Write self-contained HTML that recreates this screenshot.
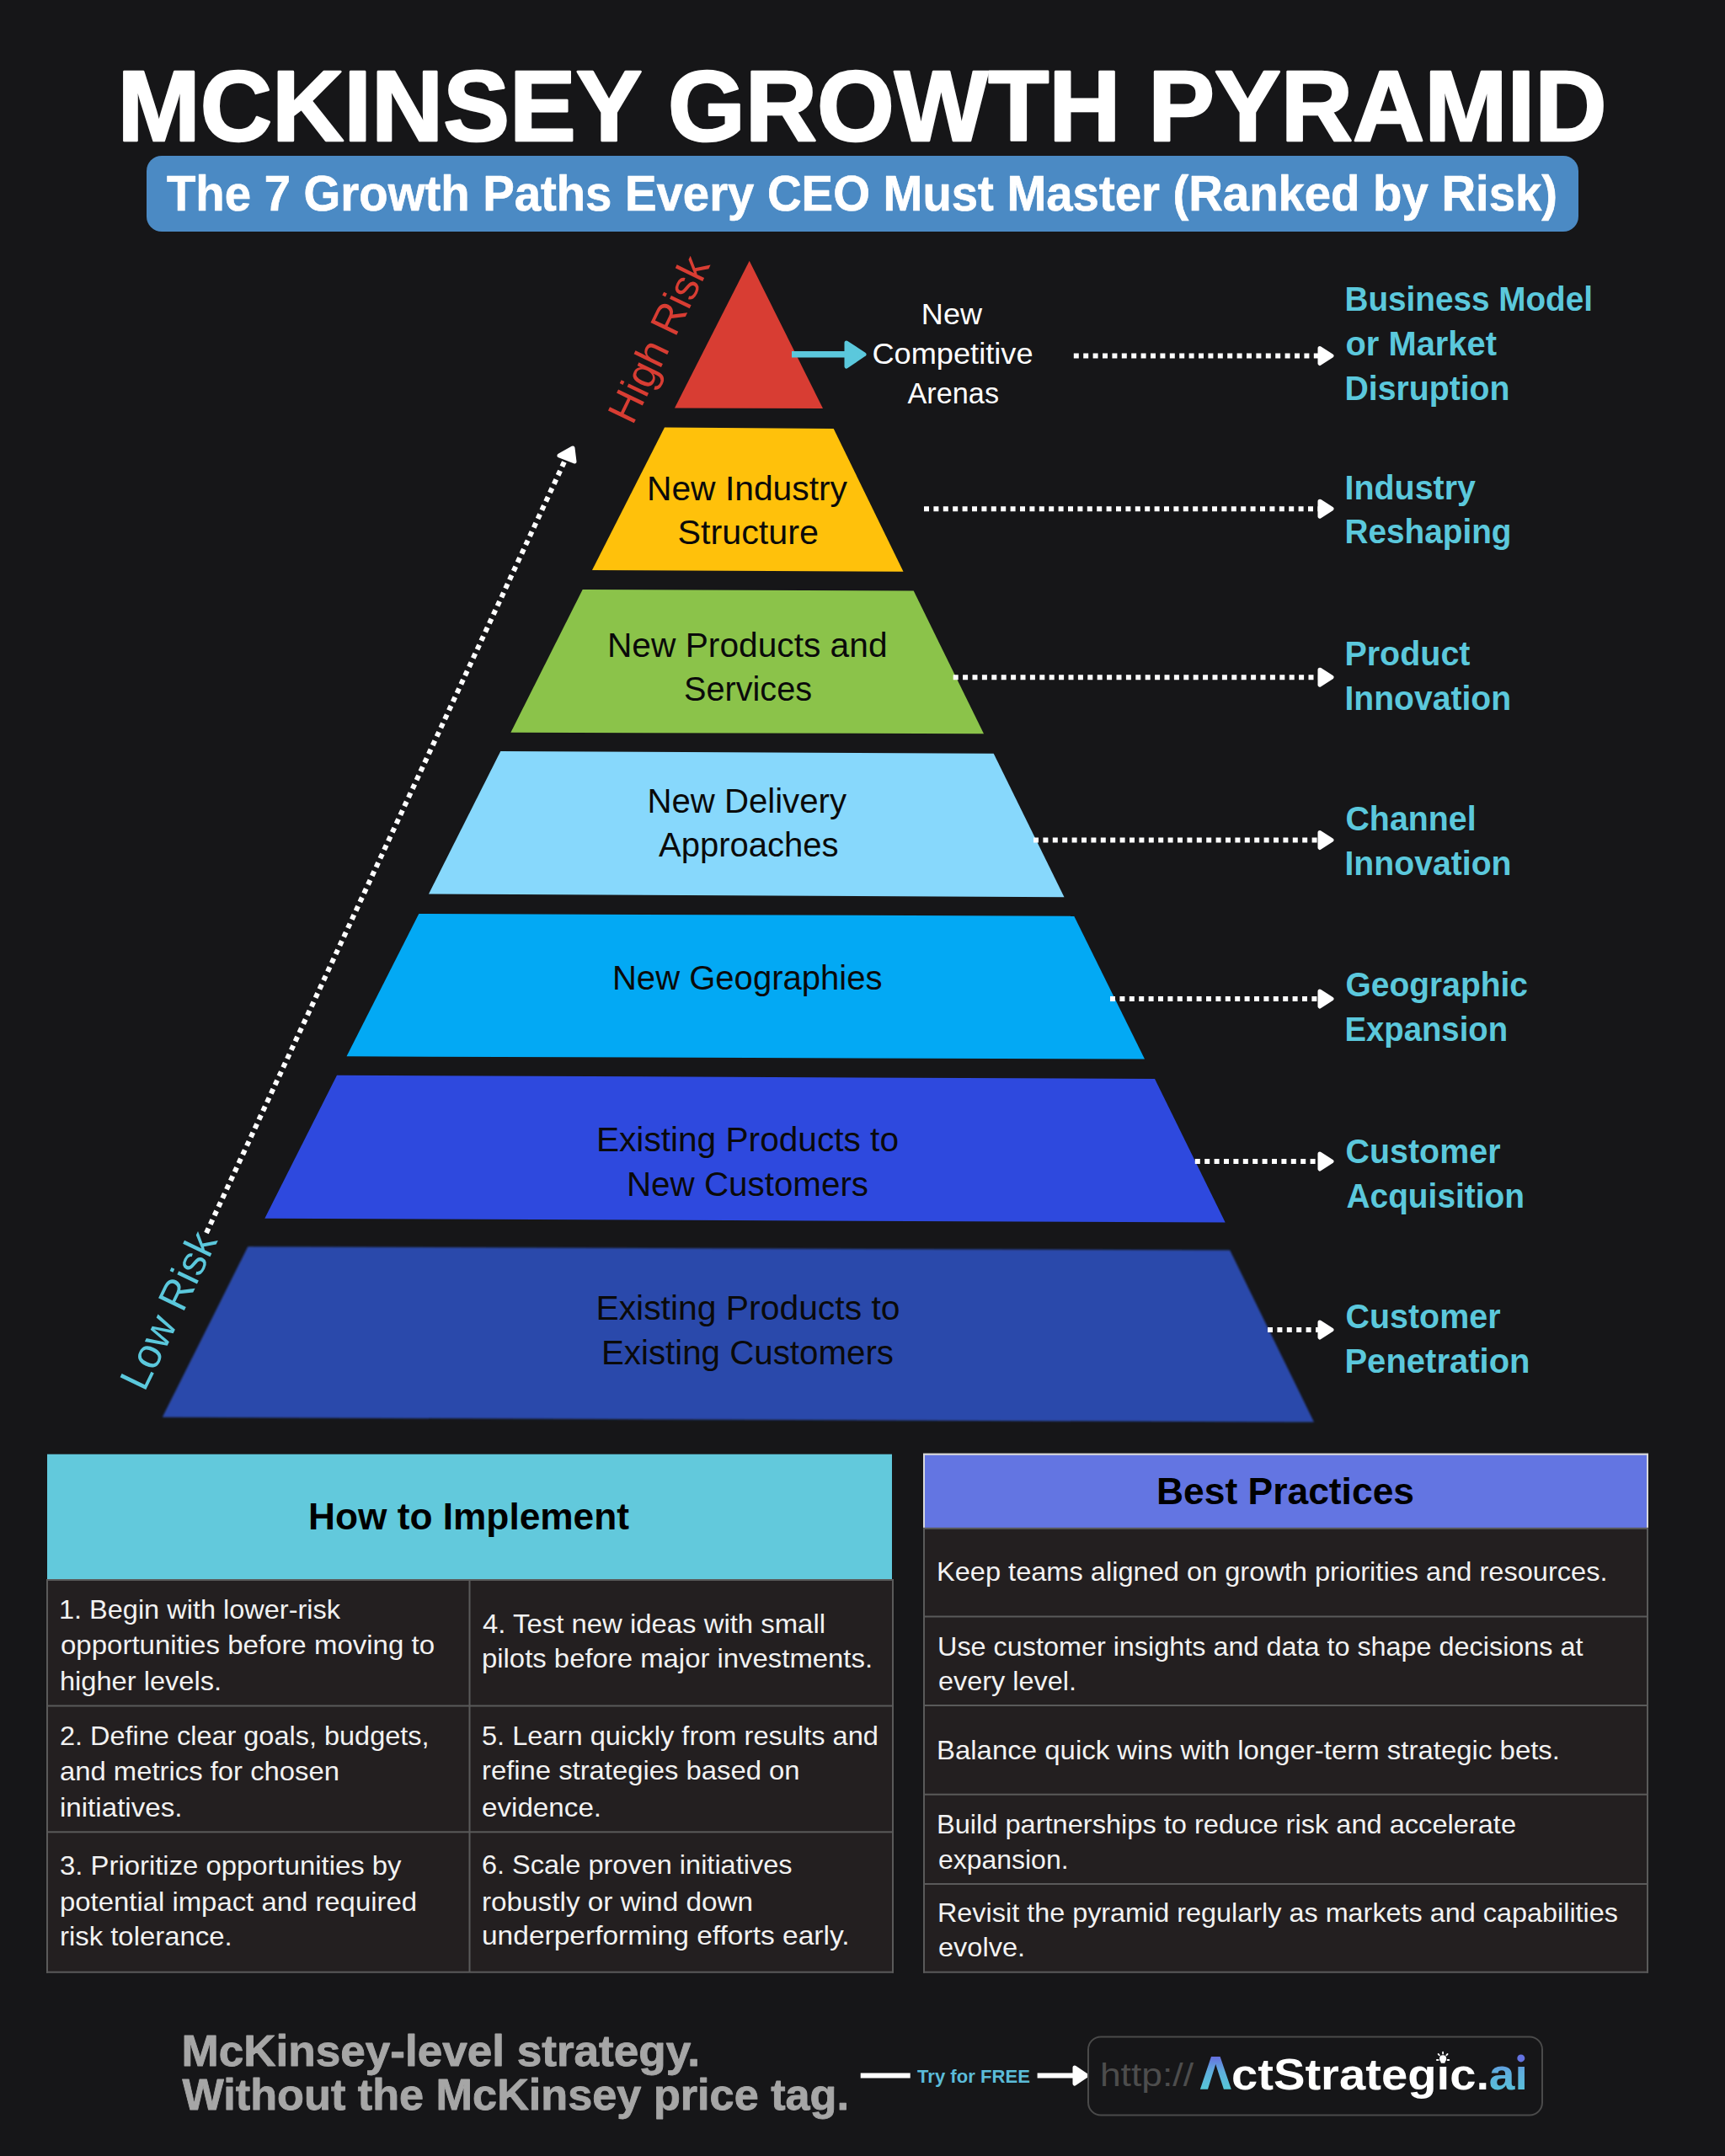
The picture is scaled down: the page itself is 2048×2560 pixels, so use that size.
<!DOCTYPE html>
<html><head><meta charset="utf-8"><title>McKinsey Growth Pyramid</title>
<style>html,body{margin:0;padding:0;background:#161618;width:2048px;height:2560px;overflow:hidden}
svg text{font-family:"Liberation Sans", sans-serif}</style></head>
<body><svg width="2048" height="2560" viewBox="0 0 2048 2560" style="display:block"><defs><filter id="b1" x="-5%" y="-5%" width="110%" height="110%"><feGaussianBlur stdDeviation="0.9"/></filter><linearGradient id="g1" x1="0" y1="0" x2="0" y2="1"><stop offset="0" stop-color="#6670E0"/><stop offset="0.45" stop-color="#5FAEDD"/><stop offset="1" stop-color="#56C8D9"/></linearGradient></defs>
<rect x="0" y="0" width="2048" height="2560" fill="#161618"/>
<rect x="174" y="185" width="1700" height="90" rx="18" ry="18" fill="#4B8AC4"/>
<polygon points="889.7,309.8 977,485 801,484.5" fill="#D83D33"/>
<polygon points="789,507.5 989.7,509 1072.5,678.7 703,677" fill="#FFC10B"/>
<polygon points="691.7,700 1084.7,701.6 1168,871.3 606.4,869.7" fill="#8BC34A"/>
<polygon points="594.3,892 1179.7,894.8 1263.5,1065.2 509,1061.4" fill="#87D8FC"/>
<polygon points="497.3,1085 1275.2,1087.8 1359,1257.6 411.5,1254.3" fill="#03A9F4"/>
<polygon points="400,1276.8 1371,1281 1454.7,1451.4 314.3,1446.8" fill="#2E49DE"/>
<polygon points="294.3,1480.3 1460.2,1484.5 1560,1688.6 192.8,1682.8" fill="#2C4AAB" filter="url(#b1)"/>
<rect x="940" y="417" width="66" height="7.5" fill="#5BC8DC"/>
<path d="M1005 407 L1026 420.8 L1005 435 Z" fill="#5BC8DC" stroke="#5BC8DC" stroke-width="5" stroke-linejoin="round"/>
<line x1="1274.8" y1="422.5" x2="1566" y2="422.5" stroke="#ffffff" stroke-width="6" stroke-dasharray="6 5.4"/>
<path d="M1567 413.5 L1581 422.5 L1567 431.5 Z" fill="#fff" stroke="#fff" stroke-width="5" stroke-linejoin="round"/>
<line x1="1097" y1="604.2" x2="1566" y2="604.2" stroke="#ffffff" stroke-width="6" stroke-dasharray="6 5.4"/>
<path d="M1567 595.2 L1581 604.2 L1567 613.2 Z" fill="#fff" stroke="#fff" stroke-width="5" stroke-linejoin="round"/>
<line x1="1131.7" y1="804.2" x2="1566" y2="804.2" stroke="#ffffff" stroke-width="6" stroke-dasharray="6 5.4"/>
<path d="M1567 795.2 L1581 804.2 L1567 813.2 Z" fill="#fff" stroke="#fff" stroke-width="5" stroke-linejoin="round"/>
<line x1="1227" y1="997.5" x2="1566" y2="997.5" stroke="#ffffff" stroke-width="6" stroke-dasharray="6 5.4"/>
<path d="M1567 988.5 L1581 997.5 L1567 1006.5 Z" fill="#fff" stroke="#fff" stroke-width="5" stroke-linejoin="round"/>
<line x1="1318" y1="1186" x2="1566" y2="1186" stroke="#ffffff" stroke-width="6" stroke-dasharray="6 5.4"/>
<path d="M1567 1177 L1581 1186 L1567 1195 Z" fill="#fff" stroke="#fff" stroke-width="5" stroke-linejoin="round"/>
<line x1="1418.8" y1="1379" x2="1566" y2="1379" stroke="#ffffff" stroke-width="6" stroke-dasharray="6 5.4"/>
<path d="M1567 1370 L1581 1379 L1567 1388 Z" fill="#fff" stroke="#fff" stroke-width="5" stroke-linejoin="round"/>
<line x1="1505" y1="1579" x2="1566" y2="1579" stroke="#ffffff" stroke-width="6" stroke-dasharray="6 5.4"/>
<path d="M1567 1570 L1581 1579 L1567 1588 Z" fill="#fff" stroke="#fff" stroke-width="5" stroke-linejoin="round"/>
<line x1="245" y1="1464" x2="672" y2="544" stroke="#fff" stroke-width="6" stroke-dasharray="6 5.4"/>
<path d="M664 541 L680 532 L682 548 Z" fill="#fff" stroke="#fff" stroke-width="5" stroke-linejoin="round"/>
<text x="0" y="0" font-size="49.7" fill="#D83D33" transform="translate(751.1,506) rotate(-64.2)">High Risk</text>
<text x="0" y="0" font-size="49.5" fill="#5BC8DC" transform="translate(171.5,1653.8) rotate(-64.2)">Low Risk</text>
<rect x="56" y="1726.7" width="1003" height="149" fill="#62C9DC"/>
<rect x="56" y="1876" width="1003" height="466" fill="#231F20"/>
<rect x="55" y="1875" width="1006" height="2" fill="#5a5a5a"/>
<rect x="55" y="2024.5" width="1006" height="2" fill="#5a5a5a"/>
<rect x="55" y="2174.3" width="1006" height="2" fill="#5a5a5a"/>
<rect x="55" y="2340.7" width="1006" height="2" fill="#5a5a5a"/>
<rect x="55" y="1875" width="2" height="467.7" fill="#5a5a5a"/>
<rect x="1059" y="1875" width="2" height="467.7" fill="#5a5a5a"/>
<rect x="556.5" y="1876" width="2" height="466" fill="#5a5a5a"/>
<rect x="1096" y="1725.6" width="861" height="89" fill="#D9D9D9"/>
<rect x="1098" y="1727.8" width="857" height="87" fill="#6375E2"/>
<rect x="1097" y="1815" width="859" height="527" fill="#231F20"/>
<rect x="1096" y="1813.8" width="861" height="2" fill="#5a5a5a"/>
<rect x="1096" y="1918.5" width="861" height="2" fill="#5a5a5a"/>
<rect x="1096" y="2024" width="861" height="2" fill="#5a5a5a"/>
<rect x="1096" y="2129.7" width="861" height="2" fill="#5a5a5a"/>
<rect x="1096" y="2236" width="861" height="2" fill="#5a5a5a"/>
<rect x="1096" y="2340.7" width="861" height="2" fill="#5a5a5a"/>
<rect x="1096" y="1814" width="2" height="528.7" fill="#5a5a5a"/>
<rect x="1955" y="1814" width="2" height="528.7" fill="#5a5a5a"/>
<rect x="1021.7" y="2461.5" width="59" height="6" fill="#fff"/>
<rect x="1231.6" y="2461.5" width="45" height="6" fill="#fff"/>
<path d="M1276 2455 L1290 2464.5 L1276 2474 Z" fill="#fff" stroke="#fff" stroke-width="5" stroke-linejoin="round"/>
<rect x="1292" y="2418.5" width="539" height="93" rx="15" ry="15" fill="none" stroke="#4a4a4a" stroke-width="2"/>
<path d="M1438 2442 L1448.6 2442 L1461.8 2480.8 L1452.9 2480.8 L1443.3 2450.9 L1434 2480.8 L1424.9 2480.8 Z" fill="url(#g1)"/>
<g fill="#fff" stroke="none"><circle cx="1713.1" cy="2444.4" r="4.1"/><path d="M1710.2 2446.5 L1716 2446.5 L1715.4 2449.8 L1710.8 2449.8 Z"/></g>
<g stroke="#fff" stroke-width="1.8" stroke-linecap="round"><line x1="1713.1" y1="2436.6" x2="1713.1" y2="2438.6"/><line x1="1707.6" y1="2438.9" x2="1708.9" y2="2440.3"/><line x1="1718.6" y1="2438.9" x2="1717.3" y2="2440.3"/><line x1="1705.9" y1="2446" x2="1707.6" y2="2446"/><line x1="1718.6" y1="2446" x2="1720.3" y2="2446"/></g>
<circle cx="1805.8" cy="2443.9" r="4.5" fill="#6473E1"/>
<text x="139.46" y="167.2" font-size="119.5" font-weight="bold" fill="#ffffff" textLength="1768.06" lengthAdjust="spacingAndGlyphs" stroke="#ffffff" stroke-width="2.6" stroke-linejoin="round">MCKINSEY GROWTH PYRAMID</text>
<text x="198.0" y="249.5" font-size="59" font-weight="bold" fill="#ffffff" textLength="1651.0" lengthAdjust="spacingAndGlyphs" stroke="#ffffff" stroke-width="0.7" stroke-linejoin="round">The 7 Growth Paths Every CEO Must Master (Ranked by Risk)</text>
<text x="767.95" y="593.7" font-size="40" font-weight="normal" fill="#0a0a0a" textLength="238.06" lengthAdjust="spacingAndGlyphs">New Industry</text>
<text x="804.47" y="645.8" font-size="40" font-weight="normal" fill="#0a0a0a" textLength="167.58" lengthAdjust="spacingAndGlyphs">Structure</text>
<text x="720.96" y="779.7" font-size="40" font-weight="normal" fill="#0a0a0a" textLength="332.59" lengthAdjust="spacingAndGlyphs">New Products and</text>
<text x="811.97" y="832" font-size="40" font-weight="normal" fill="#0a0a0a" textLength="152.05" lengthAdjust="spacingAndGlyphs">Services</text>
<text x="768.46" y="964.5" font-size="40" font-weight="normal" fill="#0a0a0a" textLength="236.54" lengthAdjust="spacingAndGlyphs">New Delivery</text>
<text x="782.0" y="1017.4" font-size="40" font-weight="normal" fill="#0a0a0a" textLength="213.51" lengthAdjust="spacingAndGlyphs">Approaches</text>
<text x="726.96" y="1174.7" font-size="40" font-weight="normal" fill="#0a0a0a" textLength="320.55" lengthAdjust="spacingAndGlyphs">New Geographies</text>
<text x="707.96" y="1366.5" font-size="40" font-weight="normal" fill="#0a0a0a" textLength="359.05" lengthAdjust="spacingAndGlyphs">Existing Products to</text>
<text x="743.96" y="1419.8" font-size="40" font-weight="normal" fill="#0a0a0a" textLength="287.06" lengthAdjust="spacingAndGlyphs">New Customers</text>
<text x="707.44" y="1567" font-size="40" font-weight="normal" fill="#0a0a0a" textLength="361.07" lengthAdjust="spacingAndGlyphs">Existing Products to</text>
<text x="713.95" y="1620.3" font-size="40" font-weight="normal" fill="#0a0a0a" textLength="347.07" lengthAdjust="spacingAndGlyphs">Existing Customers</text>
<text x="1093.85" y="384.9" font-size="34.5" font-weight="normal" fill="#ffffff" textLength="72.14" lengthAdjust="spacingAndGlyphs">New</text>
<text x="1035.47" y="431.8" font-size="34.5" font-weight="normal" fill="#ffffff" textLength="191.05" lengthAdjust="spacingAndGlyphs">Competitive</text>
<text x="1077.5" y="479.2" font-size="34.5" font-weight="normal" fill="#ffffff" textLength="108.51" lengthAdjust="spacingAndGlyphs">Arenas</text>
<text x="1596.46" y="369" font-size="40" font-weight="bold" fill="#5BC8DC" textLength="294.58" lengthAdjust="spacingAndGlyphs">Business Model</text>
<text x="1597.48" y="422" font-size="40" font-weight="bold" fill="#5BC8DC" textLength="179.51" lengthAdjust="spacingAndGlyphs">or Market</text>
<text x="1596.45" y="474.9" font-size="40" font-weight="bold" fill="#5BC8DC" textLength="196.1" lengthAdjust="spacingAndGlyphs">Disruption</text>
<text x="1596.48" y="593" font-size="40" font-weight="bold" fill="#5BC8DC" textLength="155.55" lengthAdjust="spacingAndGlyphs">Industry</text>
<text x="1596.45" y="645.1" font-size="40" font-weight="bold" fill="#5BC8DC" textLength="198.11" lengthAdjust="spacingAndGlyphs">Reshaping</text>
<text x="1596.45" y="789.7" font-size="40" font-weight="bold" fill="#5BC8DC" textLength="149.05" lengthAdjust="spacingAndGlyphs">Product</text>
<text x="1596.46" y="843" font-size="40" font-weight="bold" fill="#5BC8DC" textLength="197.61" lengthAdjust="spacingAndGlyphs">Innovation</text>
<text x="1597.47" y="986" font-size="40" font-weight="bold" fill="#5BC8DC" textLength="155.11" lengthAdjust="spacingAndGlyphs">Channel</text>
<text x="1596.45" y="1038.7" font-size="40" font-weight="bold" fill="#5BC8DC" textLength="198.11" lengthAdjust="spacingAndGlyphs">Innovation</text>
<text x="1597.49" y="1183.2" font-size="40" font-weight="bold" fill="#5BC8DC" textLength="216.51" lengthAdjust="spacingAndGlyphs">Geographic</text>
<text x="1596.46" y="1235.8" font-size="40" font-weight="bold" fill="#5BC8DC" textLength="193.6" lengthAdjust="spacingAndGlyphs">Expansion</text>
<text x="1597.48" y="1380.8" font-size="40" font-weight="bold" fill="#5BC8DC" textLength="184.03" lengthAdjust="spacingAndGlyphs">Customer</text>
<text x="1598.48" y="1433.6" font-size="40" font-weight="bold" fill="#5BC8DC" textLength="211.55" lengthAdjust="spacingAndGlyphs">Acquisition</text>
<text x="1597.48" y="1577.4" font-size="40" font-weight="bold" fill="#5BC8DC" textLength="184.03" lengthAdjust="spacingAndGlyphs">Customer</text>
<text x="1596.45" y="1630.3" font-size="40" font-weight="bold" fill="#5BC8DC" textLength="220.1" lengthAdjust="spacingAndGlyphs">Penetration</text>
<text x="365.99" y="1815.5" font-size="44" font-weight="bold" fill="#000000" textLength="381.01" lengthAdjust="spacingAndGlyphs">How to Implement</text>
<text x="1372.97" y="1786" font-size="45" font-weight="bold" fill="#000000" textLength="306.08" lengthAdjust="spacingAndGlyphs">Best Practices</text>
<text x="69.98" y="1921.6" font-size="30.5" font-weight="normal" fill="#F2F2F2" textLength="334.02" lengthAdjust="spacingAndGlyphs">1. Begin with lower-risk</text>
<text x="71.99" y="1963.8" font-size="30.5" font-weight="normal" fill="#F2F2F2" textLength="444.01" lengthAdjust="spacingAndGlyphs">opportunities before moving to</text>
<text x="70.95" y="2007" font-size="30.5" font-weight="normal" fill="#F2F2F2" textLength="192.13" lengthAdjust="spacingAndGlyphs">higher levels.</text>
<text x="70.99" y="2071.8" font-size="30.5" font-weight="normal" fill="#F2F2F2" textLength="438.54" lengthAdjust="spacingAndGlyphs">2. Define clear goals, budgets,</text>
<text x="70.98" y="2114" font-size="30.5" font-weight="normal" fill="#F2F2F2" textLength="332.05" lengthAdjust="spacingAndGlyphs">and metrics for chosen</text>
<text x="70.93" y="2156.8" font-size="30.5" font-weight="normal" fill="#F2F2F2" textLength="145.64" lengthAdjust="spacingAndGlyphs">initiatives.</text>
<text x="70.99" y="2225.6" font-size="30.5" font-weight="normal" fill="#F2F2F2" textLength="405.51" lengthAdjust="spacingAndGlyphs">3. Prioritize opportunities by</text>
<text x="70.99" y="2269.3" font-size="30.5" font-weight="normal" fill="#F2F2F2" textLength="424.02" lengthAdjust="spacingAndGlyphs">potential impact and required</text>
<text x="70.97" y="2310" font-size="30.5" font-weight="normal" fill="#F2F2F2" textLength="204.6" lengthAdjust="spacingAndGlyphs">risk tolerance.</text>
<text x="573.0" y="1938.7" font-size="30.5" font-weight="normal" fill="#F2F2F2" textLength="407.01" lengthAdjust="spacingAndGlyphs">4. Test new ideas with small</text>
<text x="571.99" y="1979.8" font-size="30.5" font-weight="normal" fill="#F2F2F2" textLength="464.04" lengthAdjust="spacingAndGlyphs">pilots before major investments.</text>
<text x="571.99" y="2071.5" font-size="30.5" font-weight="normal" fill="#F2F2F2" textLength="471.02" lengthAdjust="spacingAndGlyphs">5. Learn quickly from results and</text>
<text x="571.97" y="2112.6" font-size="30.5" font-weight="normal" fill="#F2F2F2" textLength="377.54" lengthAdjust="spacingAndGlyphs">refine strategies based on</text>
<text x="571.96" y="2157" font-size="30.5" font-weight="normal" fill="#F2F2F2" textLength="142.16" lengthAdjust="spacingAndGlyphs">evidence.</text>
<text x="571.99" y="2224.5" font-size="30.5" font-weight="normal" fill="#F2F2F2" textLength="368.52" lengthAdjust="spacingAndGlyphs">6. Scale proven initiatives</text>
<text x="571.97" y="2269" font-size="30.5" font-weight="normal" fill="#F2F2F2" textLength="322.06" lengthAdjust="spacingAndGlyphs">robustly or wind down</text>
<text x="571.98" y="2309" font-size="30.5" font-weight="normal" fill="#F2F2F2" textLength="436.54" lengthAdjust="spacingAndGlyphs">underperforming efforts early.</text>
<text x="1111.99" y="1876.8000000000002" font-size="30.5" font-weight="normal" fill="#F2F2F2" textLength="796.54" lengthAdjust="spacingAndGlyphs">Keep teams aligned on growth priorities and resources.</text>
<text x="1113.0" y="1965.7" font-size="30.5" font-weight="normal" fill="#F2F2F2" textLength="766.5" lengthAdjust="spacingAndGlyphs">Use customer insights and data to shape decisions at</text>
<text x="1113.98" y="2007.4" font-size="30.5" font-weight="normal" fill="#F2F2F2" textLength="164.08" lengthAdjust="spacingAndGlyphs">every level.</text>
<text x="1111.98" y="2088.7000000000003" font-size="30.5" font-weight="normal" fill="#F2F2F2" textLength="740.05" lengthAdjust="spacingAndGlyphs">Balance quick wins with longer-term strategic bets.</text>
<text x="1111.99" y="2177.4" font-size="30.5" font-weight="normal" fill="#F2F2F2" textLength="688.02" lengthAdjust="spacingAndGlyphs">Build partnerships to reduce risk and accelerate</text>
<text x="1113.98" y="2219.1" font-size="30.5" font-weight="normal" fill="#F2F2F2" textLength="154.57" lengthAdjust="spacingAndGlyphs">expansion.</text>
<text x="1112.99" y="2281.7000000000003" font-size="30.5" font-weight="normal" fill="#F2F2F2" textLength="808.01" lengthAdjust="spacingAndGlyphs">Revisit the pyramid regularly as markets and capabilities</text>
<text x="1113.95" y="2323.4" font-size="30.5" font-weight="normal" fill="#F2F2F2" textLength="103.13" lengthAdjust="spacingAndGlyphs">evolve.</text>
<text x="215.47" y="2452.6" font-size="52.5" font-weight="bold" fill="#A6A6A6" textLength="615.55" lengthAdjust="spacingAndGlyphs" stroke="#A6A6A6" stroke-width="0.9" stroke-linejoin="round">McKinsey-level strategy.</text>
<text x="216.5" y="2505.1" font-size="52.5" font-weight="bold" fill="#A6A6A6" textLength="791.51" lengthAdjust="spacingAndGlyphs" stroke="#A6A6A6" stroke-width="0.9" stroke-linejoin="round">Without the McKinsey price tag.</text>
<text x="1089.0" y="2473" font-size="22.5" font-weight="bold" fill="#5BBCD9" textLength="134.0" lengthAdjust="spacingAndGlyphs">Try for FREE</text>
<text x="1305.91" y="2476.7" font-size="38" font-weight="normal" fill="#4d4d4d" textLength="111.09" lengthAdjust="spacingAndGlyphs">http://</text>
<text x="1461.95" y="2481" font-size="52" font-weight="bold" fill="#ffffff" textLength="306.13" lengthAdjust="spacingAndGlyphs">ctStrategıc.</text>
<text x="1767.89" y="2481" font-size="52" font-weight="bold" fill="url(#g1)" textLength="45.98" lengthAdjust="spacingAndGlyphs">aı</text></svg></body></html>
